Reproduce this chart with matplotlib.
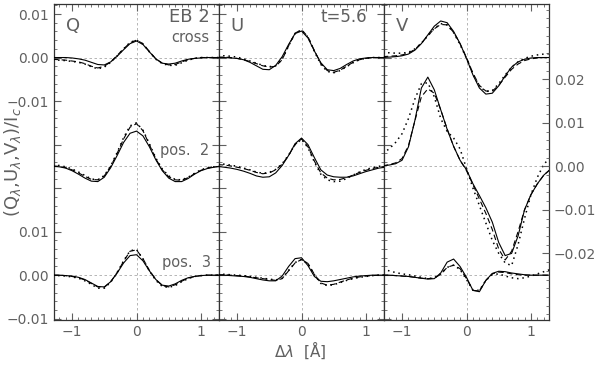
import numpy as np
import matplotlib.pyplot as plt
from matplotlib.ticker import MultipleLocator, FixedLocator

# wavelength grid (Angstrom)
lam = [-1.3, -1.2, -1.1, -1.0, -0.9, -0.8, -0.7, -0.6, -0.5, -0.4, -0.3, -0.2, -0.1,
       0.0, 0.1, 0.2, 0.3, 0.4, 0.5, 0.6, 0.7, 0.8, 0.9, 1.0, 1.1, 1.2, 1.3]

# ---- Q ----
q_cross_sol = [0, 0, 0, -0.0001, -0.0003, -0.0006, -0.0011, -0.0016, -0.0017, -0.0010, 0.0003, 0.0018, 0.0032,
               0.0038, 0.0030, 0.0013, -0.0003, -0.0013, -0.0015, -0.0013, -0.0008, -0.0004, -0.0002, -0.0001, 0, 0, 0]
q_cross_dsh = [-0.0004, -0.0005, -0.0006, -0.0008, -0.0010, -0.0014, -0.0020, -0.0024, -0.0020, -0.0010, 0.0005, 0.0020, 0.0034,
               0.0040, 0.0032, 0.0014, -0.0003, -0.0013, -0.0017, -0.0016, -0.0010, -0.0005, -0.0002, 0, 0, 0, 0]
q_cross_dot = [-0.0006, -0.0006, -0.0007, -0.0009, -0.0011, -0.0015, -0.0021, -0.0026, -0.0022, -0.0011, 0.0004, 0.0020, 0.0035,
               0.0040, 0.0031, 0.0013, -0.0004, -0.0014, -0.0018, -0.0018, -0.0012, -0.0006, -0.0002, 0, 0, 0, 0]
q_pos2_sol = [0.0000, -0.0001, -0.0004, -0.0010, -0.0018, -0.0027, -0.0034, -0.0035, -0.0025, -0.0003, 0.0025, 0.0055, 0.0076,
              0.0081, 0.0070, 0.0045, 0.0015, -0.0010, -0.0027, -0.0035, -0.0035, -0.0028, -0.0018, -0.0010, -0.0005, -0.0002, 0.0000]
q_pos2_dsh = [0.0001, 0.0000, -0.0003, -0.0008, -0.0015, -0.0023, -0.0030, -0.0031, -0.0022, 0.0000, 0.0030, 0.0063, 0.0090,
              0.0098, 0.0082, 0.0050, 0.0017, -0.0008, -0.0024, -0.0031, -0.0032, -0.0026, -0.0017, -0.0009, -0.0004, -0.0001, 0.0000]
q_pos2_dot = [0.0003, 0.0002, -0.0001, -0.0006, -0.0013, -0.0021, -0.0029, -0.0031, -0.0021, 0.0001, 0.0032, 0.0066, 0.0093,
              0.0100, 0.0083, 0.0052, 0.0019, -0.0006, -0.0022, -0.0030, -0.0031, -0.0025, -0.0016, -0.0008, -0.0003, -0.0001, 0.0000]
q_pos3_sol = [0, 0, -0.0001, -0.0002, -0.0005, -0.0010, -0.0018, -0.0026, -0.0027, -0.0015, 0.0005, 0.0028, 0.0045,
              0.0047, 0.0033, 0.0010, -0.0010, -0.0023, -0.0025, -0.0020, -0.0012, -0.0006, -0.0003, -0.0001, 0, 0, 0]
q_pos3_dsh = [0, 0, -0.0001, -0.0003, -0.0006, -0.0011, -0.0019, -0.0027, -0.0028, -0.0015, 0.0006, 0.0032, 0.0055,
              0.0058, 0.0038, 0.0011, -0.0010, -0.0024, -0.0027, -0.0022, -0.0014, -0.0007, -0.0003, -0.0001, 0, 0, 0]
q_pos3_dot = [0, -0.0001, -0.0002, -0.0004, -0.0007, -0.0013, -0.0021, -0.0030, -0.0030, -0.0016, 0.0006, 0.0033, 0.0056,
              0.0059, 0.0037, 0.0010, -0.0012, -0.0026, -0.0028, -0.0024, -0.0015, -0.0008, -0.0003, -0.0001, 0, 0, 0]

# ---- U ----
u_cross_sol = [0, 0, -0.0001, -0.0002, -0.0005, -0.0011, -0.0019, -0.0027, -0.0028, -0.0018, 0.0002, 0.0030, 0.0055,
               0.0061, 0.0045, 0.0015, -0.0012, -0.0028, -0.0030, -0.0025, -0.0016, -0.0008, -0.0003, -0.0001, 0, 0, 0]
u_cross_dsh = [0.0001, 0.0001, 0, -0.0002, -0.0005, -0.0009, -0.0014, -0.0019, -0.0022, -0.0020, -0.0005, 0.0027, 0.0056,
               0.0064, 0.0048, 0.0016, -0.0014, -0.0030, -0.0034, -0.0029, -0.0020, -0.0011, -0.0005, -0.0002, 0, 0, 0]
u_cross_dot = [0.0004, 0.0004, 0.0003, 0.0001, -0.0003, -0.0008, -0.0013, -0.0018, -0.0021, -0.0019, -0.0004, 0.0027, 0.0055,
               0.0063, 0.0047, 0.0014, -0.0016, -0.0032, -0.0035, -0.0030, -0.0021, -0.0012, -0.0005, -0.0002, 0, 0, 0]
u_pos2_sol = [0.0000, -0.0002, -0.0004, -0.0007, -0.0011, -0.0016, -0.0022, -0.0025, -0.0024, -0.0015, 0.0002, 0.0025, 0.0052,
              0.0065, 0.0050, 0.0020, -0.0008, -0.0020, -0.0024, -0.0025, -0.0025, -0.0022, -0.0017, -0.0012, -0.0008, -0.0004, -0.0002]
u_pos2_dsh = [0.0004, 0.0003, 0.0001, -0.0002, -0.0005, -0.0009, -0.0014, -0.0017, -0.0015, -0.0008, 0.0005, 0.0025, 0.0050,
              0.0063, 0.0045, 0.0012, -0.0015, -0.0027, -0.0031, -0.0030, -0.0026, -0.0020, -0.0014, -0.0009, -0.0005, -0.0002, 0.0000]
u_pos2_dot = [0.0006, 0.0005, 0.0003, 0.0000, -0.0004, -0.0008, -0.0013, -0.0016, -0.0014, -0.0007, 0.0006, 0.0026, 0.0050,
              0.0062, 0.0043, 0.0010, -0.0018, -0.0031, -0.0035, -0.0034, -0.0028, -0.0020, -0.0013, -0.0007, -0.0003, 0.0000, 0.0002]
u_pos3_sol = [0, 0, -0.0001, -0.0002, -0.0003, -0.0005, -0.0008, -0.0011, -0.0013, -0.0013, -0.0002, 0.0020, 0.0038,
              0.0040, 0.0022, -0.0003, -0.0014, -0.0015, -0.0013, -0.0010, -0.0007, -0.0004, -0.0002, -0.0001, 0, 0, 0]
u_pos3_dsh = [0.0001, 0.0001, 0, -0.0001, -0.0002, -0.0004, -0.0006, -0.0008, -0.0010, -0.0012, -0.0008, 0.0010, 0.0028,
              0.0036, 0.0027, 0.0002, -0.0018, -0.0023, -0.0021, -0.0016, -0.0011, -0.0007, -0.0004, -0.0002, -0.0001, 0, 0]
u_pos3_dot = [0.0002, 0.0002, 0.0001, 0, -0.0001, -0.0003, -0.0005, -0.0007, -0.0009, -0.0011, -0.0007, 0.0011, 0.0029,
              0.0036, 0.0026, 0.0001, -0.0019, -0.0024, -0.0022, -0.0017, -0.0012, -0.0008, -0.0005, -0.0003, -0.0001, 0, 0]

# ---- V ----
v_cross_sol = [0, 0.0001, 0.0002, 0.0004, 0.0008, 0.0017, 0.0032, 0.0052, 0.0072, 0.0084, 0.0080, 0.0060, 0.0032,
               -0.0002, -0.0040, -0.0070, -0.0084, -0.0082, -0.0065, -0.0042, -0.0022, -0.0010, -0.0004, -0.0001, 0, 0, 0]
v_cross_dsh = [0.0002, 0.0003, 0.0004, 0.0006, 0.0010, 0.0019, 0.0033, 0.0050, 0.0066, 0.0076, 0.0075, 0.0058, 0.0032,
               0.0000, -0.0036, -0.0064, -0.0077, -0.0077, -0.0064, -0.0045, -0.0027, -0.0015, -0.0007, -0.0003, -0.0001, 0, 0]
v_cross_dot = [0.0010, 0.0011, 0.0010, 0.0010, 0.0012, 0.0020, 0.0033, 0.0050, 0.0067, 0.0078, 0.0075, 0.0057, 0.0030,
               -0.0002, -0.0038, -0.0066, -0.0078, -0.0076, -0.0060, -0.0040, -0.0022, -0.0010, -0.0002, 0.0003, 0.0006, 0.0008, 0.0009]
v_pos2_sol = [0.0001, 0.0003, 0.0006, 0.0014, 0.0045, 0.0106, 0.0180, 0.0205, 0.0176, 0.0130, 0.0085, 0.0046, 0.0014,
              -0.0008, -0.0040, -0.0067, -0.0095, -0.0128, -0.0175, -0.0205, -0.0200, -0.0160, -0.0100, -0.0065, -0.0040, -0.0020, -0.0007]
v_pos2_dsh = [0.0001, 0.0004, 0.0008, 0.0018, 0.0048, 0.0105, 0.0160, 0.0178, 0.0168, 0.0130, 0.0086, 0.0046, 0.0014,
              -0.0010, -0.0042, -0.0075, -0.0108, -0.0145, -0.0190, -0.0215, -0.0195, -0.0150, -0.0100, -0.0065, -0.0040, -0.0020, -0.0007]
v_pos2_dot = [0.0030, 0.0040, 0.0055, 0.0075, 0.0110, 0.0155, 0.0190, 0.0192, 0.0160, 0.0110, 0.0080, 0.0065, 0.0040,
              -0.0005, -0.0050, -0.0090, -0.0130, -0.0170, -0.0200, -0.0222, -0.0228, -0.0180, -0.0120, -0.0065, -0.0025, 0.0005, 0.0020]
v_pos3_sol = [0, 0, -0.0001, -0.0002, -0.0003, -0.0005, -0.0007, -0.0009, -0.0008, 0.0005, 0.0030, 0.0037, 0.0020,
              -0.0005, -0.0035, -0.0038, -0.0012, 0.0004, 0.0009, 0.0008, 0.0005, 0.0003, 0.0001, 0, 0, 0, 0]
v_pos3_dsh = [0, 0, -0.0001, -0.0002, -0.0003, -0.0005, -0.0007, -0.0008, -0.0007, 0.0002, 0.0018, 0.0023, 0.0015,
              -0.0008, -0.0035, -0.0036, -0.0012, 0.0003, 0.0007, 0.0006, 0.0003, 0.0001, 0, 0, 0, 0, 0]
v_pos3_dot = [0.0013, 0.0010, 0.0006, 0.0003, 0.0001, -0.0002, -0.0005, -0.0008, -0.0006, 0.0003, 0.0018, 0.0023, 0.0013,
              -0.0010, -0.0034, -0.0035, -0.0012, 0.0001, 0.0003, -0.0002, -0.0006, -0.0008, -0.0006, -0.0002, 0.0003, 0.0008, 0.0013]

panels = [
    ("Q", [(q_cross_sol, q_cross_dsh, q_cross_dot), (q_pos2_sol, q_pos2_dsh, q_pos2_dot), (q_pos3_sol, q_pos3_dsh, q_pos3_dot)]),
    ("U", [(u_cross_sol, u_cross_dsh, u_cross_dot), (u_pos2_sol, u_pos2_dsh, u_pos2_dot), (u_pos3_sol, u_pos3_dsh, u_pos3_dot)]),
    ("V", [(v_cross_sol, v_cross_dsh, v_cross_dot), (v_pos2_sol, v_pos2_dsh, v_pos2_dot), (v_pos3_sol, v_pos3_dsh, v_pos3_dot)]),
]
offsets = [0.05, 0.025, 0.0]

txt = '#606060'
plt.rcParams['font.family'] = 'DejaVu Sans'
plt.rcParams['font.size'] = 10

fig = plt.figure(figsize=(6.0, 3.68), dpi=100)
x0, w = 54 / 600, 165 / 600
bot, h = 1 - 320 / 368, 316 / 368
ymin, ymax = -0.0103, 0.0623

styles = [dict(ls='-', lw=0.8), dict(ls=(0, (5, 3)), lw=0.8), dict(ls=(0, (1, 2.5)), lw=1.1)]

axes = []
for i, (name, profs) in enumerate(panels):
    ax = fig.add_axes([x0 + i * w, bot, w, h])
    axes.append(ax)
    for off in offsets:
        ax.axhline(off, color='#aaaaaa', lw=0.6, ls=(0, (3, 3)), zorder=1)
    ax.axvline(0, color='#aaaaaa', lw=0.6, ls=(0, (3, 3)), zorder=1)
    for off, prof in zip(offsets, profs):
        for ys, st in zip(prof, styles):
            ax.plot(lam, np.array(ys) + off, color='black', zorder=3, **st)
    ax.set_xlim(-1.28, 1.28)
    ax.set_ylim(ymin, ymax)
    ax.xaxis.set_major_locator(FixedLocator([-1, 0, 1]))
    ax.xaxis.set_minor_locator(MultipleLocator(0.1))
    ax.yaxis.set_major_locator(MultipleLocator(0.01))
    ax.yaxis.set_minor_locator(MultipleLocator(0.002))
    ax.tick_params(which='both', direction='in', top=True, right=True, colors=txt, labelcolor=txt)
    ax.tick_params(which='major', length=5, width=0.8)
    ax.tick_params(which='minor', length=2.5, width=0.6)
    ax.set_xticklabels(['\u22121', '0', '1'])
    for s in ax.spines.values():
        s.set_color('#333333')
        s.set_linewidth(0.9)
    if i == 0:
        ticks = [-0.01, 0.0, 0.01, 0.02, 0.03, 0.04, 0.05, 0.06]
        labels = ['\u22120.01', '0.00', '0.01', '', '', '\u22120.01', '0.00', '0.01']
        ax.set_yticks(ticks)
        ax.set_yticklabels(labels)
    else:
        ax.set_yticklabels([])
    ax.text(0.07, 0.93, name, transform=ax.transAxes, fontsize=13, color=txt, ha='left', va='center')

# right axis for V
axr = axes[2].twinx()
axr.set_ylim(ymin, ymax)
axr.set_yticks([0.005, 0.015, 0.025, 0.035, 0.045])
axr.set_yticklabels(['\u22120.02', '\u22120.01', '0.00', '0.01', '0.02'])
axr.yaxis.set_minor_locator(MultipleLocator(0.002, offset=0.001))
axr.tick_params(which='both', direction='in', colors=txt, labelcolor=txt)
axr.tick_params(which='major', length=5, width=0.8)
axr.tick_params(which='minor', length=2.5, width=0.6)
axes[2].tick_params(which='both', right=False)
for s in axr.spines.values():
    s.set_visible(False)

# annotations
axes[0].text(1.13, 0.0593, 'EB 2', fontsize=13, color=txt, ha='right', va='center')
axes[0].text(1.13, 0.0547, 'cross', fontsize=10.5, color=txt, ha='right', va='center')
axes[0].text(1.13, 0.0287, 'pos.  2', fontsize=10.5, color=txt, ha='right', va='center')
axes[0].text(1.15, 0.0030, 'pos.  3', fontsize=10.5, color=txt, ha='right', va='center')
axes[1].text(1.02, 0.0593, 't=5.6', fontsize=12, color=txt, ha='right', va='center')

fig.text(13 / 600, 1 - 162 / 368, r'(Q$_\lambda$,U$_\lambda$,V$_\lambda$)/I$_c$', rotation=90,
         ha='center', va='center', color=txt, fontsize=13)
fig.text(300 / 600, 1 - 350 / 368, r'$\Delta\lambda$  [$\mathrm{\AA}$]', ha='center', va='center',
         color=txt, fontsize=11)

fig.savefig('out.png', dpi=100)
